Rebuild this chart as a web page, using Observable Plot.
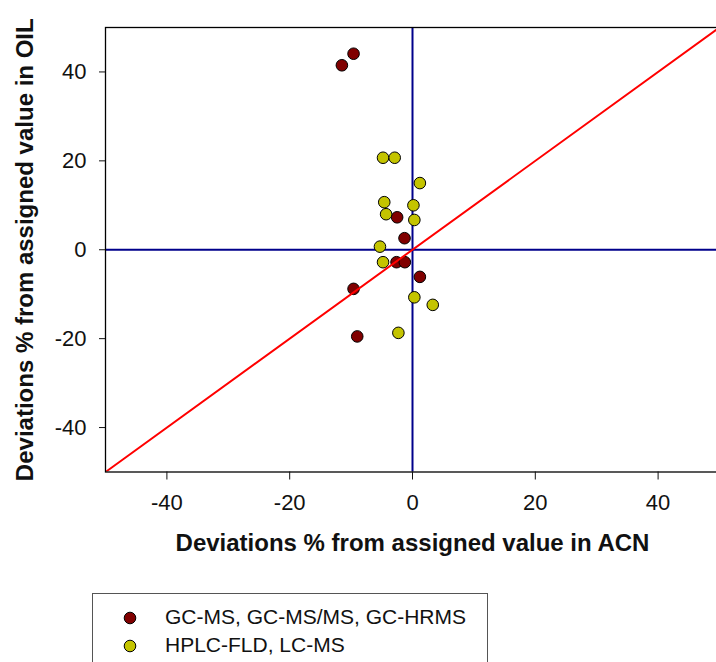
<!DOCTYPE html>
<html><head><meta charset="utf-8">
<script src="https://cdn.jsdelivr.net/npm/d3@7"></script>
<script src="https://cdn.jsdelivr.net/npm/@observablehq/plot@0.6"></script>
<style>
html,body{margin:0;padding:0;background:#fff;overflow:hidden;}
#chart{position:relative;width:716px;height:662px;font-family:"Liberation Sans",Arial,sans-serif;}
#chart > svg{position:absolute;left:0;top:0;}
#legend{position:absolute;left:92px;top:593px;width:396px;height:110px;border:1px solid #555;box-sizing:border-box;}
.item{position:absolute;left:0;height:28px;font-size:21px;color:#111;}
.item svg{position:absolute;left:28px;top:0;}
.item span{position:absolute;left:72px;top:1px;white-space:nowrap;}
</style></head>
<body><div id="chart"></div>
<script>
// GC-MS, GC-MS/MS, GC-HRMS
const gcX = [-9.6, -11.5, -2.5, -1.3, -2.6, -1.25, 1.2, -9.6, -9.0];
const gcY = [44.1, 41.5, 7.3, 2.6, -2.8, -2.8, -6.1, -8.8, -19.5];
// HPLC-FLD, LC-MS
const lcX = [-4.8, -2.9, 1.2, -4.6, 0.15, -4.3, 0.3, -5.3, -4.8, 0.3, 3.3, -2.3];
const lcY = [20.7, 20.7, 15.0, 10.7, 10.0, 8.0, 6.7, 0.7, -2.8, -10.7, -12.4, -18.7];
const seriesNames = ["GC-MS, GC-MS/MS, GC-HRMS", "HPLC-FLD, LC-MS"];
const seriesColors = ["#800000", "#c4c400"];
const tickValues = [-40, -20, 0, 20, 40];
const identityLine = [-50, 50];
const xTitle = "Deviations % from assigned value in ACN";
const yTitle = "Deviations % from assigned value in OIL";

const pts = [
  ...gcX.map((x, i) => ({x, y: gcY[i], s: seriesNames[0]})),
  ...lcX.map((x, i) => ({x, y: lcY[i], s: seriesNames[1]}))
];

const plot = Plot.plot({
  width: 716,
  height: 590,
  marginLeft: 105,
  marginRight: -3,
  marginTop: 27,
  marginBottom: 118.5,
  style: {fontFamily: '"Liberation Sans", Arial, sans-serif', fontSize: "22px", color: "#111", background: "transparent"},
  x: {domain: [-50, 50]},
  y: {domain: [-50, 50]},
  color: {domain: seriesNames, range: seriesColors},
  marks: [
    Plot.ruleX([0], {stroke: "#00008b", strokeWidth: 2}),
    Plot.ruleY([0], {stroke: "#00008b", strokeWidth: 2}),
    Plot.dot(pts, {x: "x", y: "y", fill: "s", r: 5.8, stroke: "black", strokeWidth: 1, fillOpacity: 1}),
    Plot.line(identityLine, {x: d => d, y: d => d, stroke: "#ff0000", strokeWidth: 2, clip: true}),
    Plot.frame({stroke: "black", strokeWidth: 1.3}),
    Plot.axisX({ticks: tickValues, tickSize: 8, tickPadding: 14, label: null, fontSize: 22, tickFormat: d => String(d)}),
    Plot.axisY({ticks: tickValues, tickSize: 6, tickPadding: 13, label: null, fontSize: 22, tickFormat: d => String(d)}),
    Plot.text([xTitle], {frameAnchor: "bottom", dy: 79, text: d => d, fontWeight: "bold", fontSize: 24, fill: "#111"}),
    Plot.text([yTitle], {frameAnchor: "left", dx: -80, rotate: -90, textAnchor: "middle", text: d => d, fontWeight: "bold", fontSize: 24, fill: "#111"})
  ]
});
const chart = document.getElementById("chart");
chart.appendChild(plot);

const legend = document.createElement("div");
legend.id = "legend";
seriesNames.forEach((name, i) => {
  const item = document.createElement("div");
  item.className = "item";
  item.style.top = (10 + i * 28) + "px";
  item.style.width = "390px";
  item.innerHTML = `<svg width="20" height="28"><circle cx="9" cy="14" r="5.8" fill="${seriesColors[i]}" stroke="black" stroke-width="1"/></svg><span>${name}</span>`;
  legend.appendChild(item);
});
chart.appendChild(legend);
</script>
</body></html>
